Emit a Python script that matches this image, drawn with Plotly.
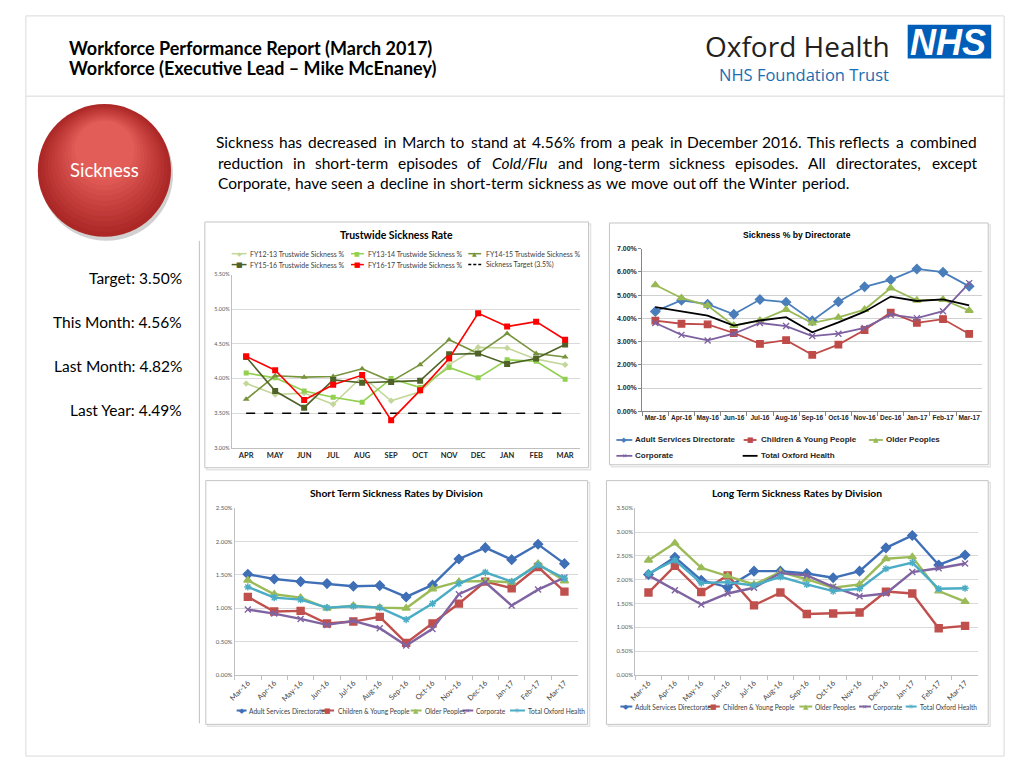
import plotly.graph_objects as go

W, H = 1024, 768

# ---------------- data ----------------
months_fy = ["APR", "MAY", "JUN", "JUL", "AUG", "SEP", "OCT", "NOV", "DEC", "JAN", "FEB", "MAR"]
fy1213 = [3.93, 3.77, 3.79, 3.63, 4.03, 3.68, 3.81, 4.20, 4.45, 4.44, 4.28, 4.20]
fy1314 = [4.08, 4.01, 3.82, 3.73, 3.66, 4.00, 3.87, 4.16, 4.01, 4.27, 4.25, 3.99]
fy1415 = [3.70, 4.04, 4.02, 4.03, 4.14, 3.96, 4.20, 4.56, 4.36, 4.65, 4.36, 4.31]
fy1516 = [4.31, 3.82, 3.58, 3.98, 3.94, 3.95, 3.97, 4.35, 4.36, 4.21, 4.29, 4.49]
fy1617 = [4.32, 4.12, 3.69, 3.91, 4.05, 3.40, 3.83, 4.29, 4.94, 4.75, 4.82, 4.56]
target = [3.5, 3.5, 3.5, 3.5, 3.5, 3.5, 3.5, 3.5, 3.5, 3.5, 3.5, 3.5]

months13 = ["Mar-16", "Apr-16", "May-16", "Jun-16", "Jul-16", "Aug-16", "Sep-16",
            "Oct-16", "Nov-16", "Dec-16", "Jan-17", "Feb-17", "Mar-17"]

dir_adult = [4.30, 4.78, 4.61, 4.18, 4.81, 4.70, 3.90, 4.72, 5.36, 5.66, 6.13, 5.99, 5.38]
dir_children = [3.90, 3.77, 3.74, 3.37, 2.90, 3.06, 2.43, 2.87, 3.50, 4.25, 3.81, 3.97, 3.33]
dir_older = [5.44, 4.88, 4.55, 3.69, 3.91, 4.38, 3.80, 4.04, 4.38, 5.31, 4.78, 4.81, 4.34]
dir_corporate = [3.80, 3.29, 3.05, 3.34, 3.80, 3.67, 3.24, 3.34, 3.59, 4.16, 4.01, 4.31, 5.52]
dir_total = [4.49, 4.32, 4.12, 3.69, 3.91, 4.05, 3.40, 3.83, 4.29, 4.94, 4.75, 4.82, 4.56]

st_adult = [1.51, 1.44, 1.40, 1.37, 1.33, 1.34, 1.17, 1.35, 1.74, 1.91, 1.73, 1.96, 1.67]
st_children = [1.17, 0.95, 0.96, 0.77, 0.80, 0.87, 0.48, 0.77, 1.07, 1.40, 1.30, 1.62, 1.25]
st_older = [1.42, 1.21, 1.16, 1.00, 1.04, 1.01, 1.00, 1.29, 1.40, 1.41, 1.39, 1.67, 1.41]
st_corporate = [0.98, 0.92, 0.84, 0.75, 0.81, 0.70, 0.44, 0.69, 1.21, 1.39, 1.04, 1.28, 1.46]
st_total = [1.32, 1.16, 1.13, 1.01, 1.03, 1.01, 0.83, 1.07, 1.37, 1.54, 1.40, 1.65, 1.45]

lt_adult = [2.11, 2.47, 1.99, 1.84, 2.18, 2.18, 2.13, 2.04, 2.18, 2.67, 2.93, 2.31, 2.52]
lt_children = [1.73, 2.29, 1.74, 2.09, 1.46, 1.73, 1.28, 1.29, 1.31, 1.75, 1.71, 0.98, 1.03]
lt_older = [2.41, 2.77, 2.25, 2.08, 1.90, 2.16, 2.01, 1.83, 1.90, 2.44, 2.48, 1.76, 1.54]
lt_corporate = [2.09, 1.78, 1.48, 1.71, 1.83, 2.14, 2.09, 1.85, 1.65, 1.71, 2.16, 2.24, 2.34]
lt_total = [2.13, 2.41, 1.93, 1.95, 1.88, 2.06, 1.90, 1.76, 1.81, 2.23, 2.36, 1.81, 1.82]

stats_labels = ["Target: 3.50%", "This Month: 4.56%", "Last Month: 4.82%", "Last Year: 4.49%"]

# ---------------- helpers ----------------
def px(x):
    return x / W


def py(y):
    return 1 - y / H


shapes = []
annotations = []


def text(x, y, s, size, color="#000000", family="Lato", xanchor="center", weight="normal", yanchor="middle"):
    annotations.append(dict(x=px(x), y=py(y), xref="paper", yref="paper", text=s, showarrow=False,
                            xanchor=xanchor, yanchor=yanchor,
                            font=dict(family=family, size=size, color=color, weight=weight)))


def rect(x0, y0, x1, y1, line="#bfbfbf", fill=None, lw=1):
    d = dict(type="rect", xref="paper", yref="paper", x0=px(x0), x1=px(x1), y0=py(y1), y1=py(y0),
             line=dict(color=line, width=lw), layer="below")
    if fill:
        d["fillcolor"] = fill
    shapes.append(d)


def hline(x0, x1, y, color, width=1, dash=None, layer="above"):
    shapes.append(dict(type="line", xref="paper", yref="paper", x0=px(x0), x1=px(x1), y0=py(y), y1=py(y),
                       line=dict(color=color, width=width, dash=dash), layer=layer))


def legend_item(x0, x1, y, color, glyph, gsize, label, tx, size, family, lw=1.5, dash=None,
                tcolor="#404040", weight="normal"):
    hline(x0, x1, y, color, lw, dash)
    if glyph:
        text((x0 + x1) / 2, y, glyph, gsize, color=color, family="DejaVu Sans")
    text(tx, y, label, size, color=tcolor, family=family, xanchor="left", weight=weight)


# Calibri-like advance widths (1/1000 em) used to lay out the justified paragraph
CAL = {' ': 226, 'a': 479, 'b': 525, 'c': 423, 'd': 525, 'e': 498, 'f': 305, 'g': 471, 'h': 525,
       'i': 229, 'j': 239, 'k': 455, 'l': 229, 'm': 799, 'n': 525, 'o': 527, 'p': 525, 'q': 525,
       'r': 349, 's': 391, 't': 335, 'u': 525, 'v': 452, 'w': 715, 'x': 433, 'y': 453, 'z': 395,
       'A': 579, 'B': 544, 'C': 533, 'D': 615, 'E': 488, 'F': 459, 'G': 631, 'H': 623, 'I': 252,
       'J': 319, 'K': 520, 'L': 420, 'M': 855, 'N': 646, 'O': 662, 'P': 517, 'Q': 673, 'R': 543,
       'S': 459, 'T': 487, 'U': 642, 'V': 567, 'W': 890, 'X': 519, 'Y': 487, 'Z': 468,
       '.': 252, ',': 250, '%': 715, '/': 386, '-': 306, '(': 303, ')': 303, ':': 268}


def wwidth(s, fs):
    return sum(CAL.get(c, 507) for c in s) * fs / 1000.0


def paragraph_line(line, y, x0, x1, justify, italic=(), ref_fs=17.0, size=15.5):
    words = line.split(" ")
    widths = [wwidth(w, ref_fs) for w in words]
    if justify:
        gap = (x1 - x0 - sum(widths)) / (len(words) - 1)
    else:
        gap = CAL[' '] * ref_fs / 1000.0
    x = x0
    for w, wd in zip(words, widths):
        s = "<i>%s</i>" % w if w in italic else w
        text(x + wd / 2, y, s, size, color="#000000", family="Lato")
        x += wd + gap


# ---------------- page decoration ----------------
rect(20, 12, 1004, 759, line="#d9d9d9")
hline(20, 1004, 93, "#d9d9d9", 1, layer="below")
shapes.append(dict(type="line", xref="paper", yref="paper", x0=px(194.5), x1=px(194.5), y0=py(239), y1=py(726),
                   line=dict(color="#bfbfbf", width=1)))

# header
text(61, 44, "Workforce Performance Report (March 2017)", 18, family="Lato", xanchor="left", weight="bold")
text(61, 65, "Workforce (Executive Lead \u2013 Mike McEnaney)", 18, family="Lato", xanchor="left", weight="bold")
text(891, 42, "Oxford Health", 28, color="#231f20", family="Open Sans", xanchor="right")
text(890, 71, "NHS Foundation Trust", 16.5, color="#1a6db3", family="Open Sans", xanchor="right")
shapes.append(dict(type="rect", xref="paper", yref="paper", x0=px(907), x1=px(991), y0=py(55), y1=py(21),
                   fillcolor="#005eb8", line=dict(width=0)))
text(948, 39, "<b><i>NHS</i></b>", 36, color="#ffffff", family="Liberation Sans")

# sickness bubble (layered circles to imitate the shaded button)
cx, cy, rx, ry = 99, 168, 67, 67
shapes.append(dict(type="circle", xref="paper", yref="paper", x0=px(cx - rx + 2), x1=px(cx + rx + 2),
                   y0=py(cy + ry + 4), y1=py(cy - ry + 4), fillcolor="rgba(0,0,0,0.18)", line=dict(width=0)))
c_out = (172, 40, 38)
c_in = (226, 92, 88)
steps = 12
for i in range(steps):
    t = i / (steps - 1)
    col = "rgb(%d,%d,%d)" % tuple(int(a + (b - a) * t) for a, b in zip(c_out, c_in))
    inset_x = rx * 0.55 * t
    inset_y = ry * 0.55 * t
    shift = -ry * 0.30 * t
    shapes.append(dict(type="circle", xref="paper", yref="paper",
                       x0=px(cx - rx + inset_x), x1=px(cx + rx - inset_x),
                       y0=py(cy + ry - inset_y + shift), y1=py(cy - ry + inset_y + shift),
                       fillcolor=col, line=dict(width=0)))
text(99, 168, "Sickness", 18.5, color="#ffffff", family="Lato")

# left statistics
for lab, yy in zip(stats_labels, [277, 321, 365, 410]):
    text(179, yy, lab, 15.5, color="#000000", family="Lato", xanchor="right")

# paragraph
paragraph_line("Sickness has decreased in March to stand at 4.56% from a peak in December 2016. This reflects a combined",
               139, 212, 977, True)
paragraph_line("reduction in short-term episodes of Cold/Flu and long-term sickness episodes. All directorates, except",
               160, 212, 977, True, italic=("Cold/Flu",))
paragraph_line("Corporate, have seen a decline in short-term sickness as we move out off the Winter period.",
               180.5, 212, 977, False)

# chart boxes with soft shadow
for (x0, y0, x1, y1) in [(200, 220, 586, 468), (607, 221, 988, 465), (201, 481, 585, 727), (604, 481, 988, 727)]:
    shapes.append(dict(type="rect", xref="paper", yref="paper", x0=px(x0 + 2), x1=px(x1 + 2), y0=py(y1 + 2),
                       y1=py(y0 + 2), line=dict(color="#e4e4e4", width=1.5), layer="below"))
    rect(x0, y0, x1, y1, line="#c4c4c4", fill="#ffffff")

# ---------------- traces ----------------
fig = go.Figure()

CAL_FONT = "Lato"
ARIAL = "Liberation Sans"

tw_series = [
    ("FY12-13 Trustwide Sickness %", fy1213, "#c4d79b", "diamond", 5),
    ("FY13-14 Trustwide Sickness %", fy1314, "#92d050", "square", 5),
    ("FY14-15 Trustwide Sickness %", fy1415, "#77933c", "triangle-up", 6),
    ("FY15-16 Trustwide Sickness %", fy1516, "#4f6228", "square", 6),
    ("FY16-17 Trustwide Sickness %", fy1617, "#ff0000", "square", 6),
]
fig.add_trace(go.Scatter(x=months_fy, y=target, mode="lines", name="Sickness Target (3.5%)",
                         line=dict(color="#000000", width=1.5, dash="dash"), xaxis="x", yaxis="y",
                         showlegend=False))
for name, vals, col, sym, ms in tw_series:
    fig.add_trace(go.Scatter(x=months_fy, y=vals, mode="lines+markers", name=name,
                             line=dict(color=col, width=1.6), marker=dict(symbol=sym, size=ms, color=col),
                             xaxis="x", yaxis="y", showlegend=False))

div_series_dir = [
    ("Adult Services Directorate", dir_adult, "#4a7ebb", "diamond", 7),
    ("Children & Young People", dir_children, "#be4b48", "square", 6.5),
    ("Older Peoples", dir_older, "#98b954", "triangle-up", 7),
    ("Corporate", dir_corporate, "#7d60a0", "x-thin-open", 6),
]
for name, vals, col, sym, ms in div_series_dir:
    fig.add_trace(go.Scatter(x=months13, y=vals, mode="lines+markers", name=name,
                             line=dict(color=col, width=1.8),
                             marker=dict(symbol=sym, size=ms, color=col, line=dict(width=1.3, color=col)),
                             xaxis="x2", yaxis="y2", showlegend=False))
fig.add_trace(go.Scatter(x=months13, y=dir_total, mode="lines", name="Total Oxford Health",
                         line=dict(color="#000000", width=1.8), xaxis="x2", yaxis="y2", showlegend=False))

div_colors = {"Adult Services Directorate": "#3f6fb6", "Children & Young People": "#c0504d",
              "Older Peoples": "#9bbb59", "Corporate": "#8064a2", "Total Oxford Health": "#4bacc6"}
div_symbols = {"Adult Services Directorate": ("diamond", 7), "Children & Young People": ("square", 7),
               "Older Peoples": ("triangle-up", 7), "Corporate": ("x-thin-open", 6),
               "Total Oxford Health": ("asterisk-open", 6)}
div_names = ["Adult Services Directorate", "Children & Young People", "Older Peoples", "Corporate",
             "Total Oxford Health"]

for axis_x, axis_y, series in [("x3", "y3", [st_adult, st_children, st_older, st_corporate, st_total]),
                               ("x4", "y4", [lt_adult, lt_children, lt_older, lt_corporate, lt_total])]:
    for name, vals in zip(div_names, series):
        col = div_colors[name]
        sym, ms = div_symbols[name]
        fig.add_trace(go.Scatter(x=months13, y=vals, mode="lines+markers", name=name,
                                 line=dict(color=col, width=2.4),
                                 marker=dict(symbol=sym, size=ms, color=col, line=dict(width=1.4, color=col)),
                                 xaxis=axis_x, yaxis=axis_y, showlegend=False))

# ---------------- chart titles & legends ----------------
text(393, 233, "Trustwide Sickness Rate", 10.5, family=CAL_FONT, weight="bold")
leg_font = 7
rows = [252, 263]
cols = [(227, 242, 243), (347, 360, 362), (465, 478, 481)]
tw_leg = [
    ("FY12-13 Trustwide Sickness %", "#c4d79b", "\u25C6", 6),
    ("FY13-14 Trustwide Sickness %", "#92d050", "\u25A0", 6),
    ("FY14-15 Trustwide Sickness %", "#77933c", "\u25B2", 6),
    ("FY15-16 Trustwide Sickness %", "#4f6228", "\u25A0", 7),
    ("FY16-17 Trustwide Sickness %", "#ff0000", "\u25A0", 7),
]
for i, (lab, col, g, gs) in enumerate(tw_leg):
    r, c = divmod(i, 3)
    x0, x1, tx = cols[c]
    legend_item(x0, x1, rows[r], col, g, gs, lab, tx, leg_font, CAL_FONT, lw=1.5)
legend_item(465, 478, rows[1], "#000000", None, 0, "Sickness Target (3.5%)", 481, leg_font, CAL_FONT,
            lw=1.5, dash="3px,2px")

text(796, 233, "Sickness % by Directorate", 8.6, family=ARIAL, weight="bold")
dir_leg = [
    (614, 630, 440, "Adult Services Directorate", "#4a7ebb", "\u25C6", 7, 631),
    (742, 755, 440, "Children & Young People", "#be4b48", "\u25A0", 7, 757),
    (868, 882, 440, "Older Peoples", "#98b954", "\u25B2", 7, 883),
    (614, 630, 456, "Corporate", "#7d60a0", "\u2715", 6, 631),
    (741, 756, 456, "Total Oxford Health", "#000000", None, 0, 757),
]
for x0, x1, y, lab, col, g, gs, tx in dir_leg:
    legend_item(x0, x1, y, col, g, gs, lab, tx, 8, ARIAL, lw=1.8, tcolor="#262626", weight="bold")

glyphs = ["\u25C6", "\u25A0", "\u25B2", "\u2715", "\u2733"]
gsizes = [7, 7, 7, 6, 7]
text(393, 493, "Short Term Sickness Rates by Division", 10.3, family=CAL_FONT, weight="bold")
st_leg = [(232, 242, 242.5), (317, 330, 332), (407, 418, 419), (459, 470, 471), (507, 522, 523)]
for (x0, x1, tx), name, g, gs in zip(st_leg, div_names, glyphs, gsizes):
    legend_item(x0, x1, 713, div_colors[name], g, gs, name, tx, 6.6, CAL_FONT, lw=2)

text(796, 493, "Long Term Sickness Rates by Division", 10.3, family=CAL_FONT, weight="bold")
lt_leg = [(618, 630, 630.5), (706, 718, 719), (798, 811, 812), (858, 870, 870.5), (905, 916, 917)]
for (x0, x1, tx), name, g, gs in zip(lt_leg, div_names, glyphs, gsizes):
    legend_item(x0, x1, 709, div_colors[name], g, gs, name, tx, 6.6, CAL_FONT, lw=2)

# ---------------- axes ----------------
def xdom(a, b):
    return [px(a), px(b)]


def ydom(top, bottom):
    return [py(bottom), py(top)]


grid = "#d9d9d9"
common_y = dict(tickformat=".2f", ticksuffix="%", zeroline=False, showline=True, fixedrange=True)
common_x = dict(type="category", showgrid=False, zeroline=False, showline=True, fixedrange=True)

layout_axes = dict(
    xaxis=dict(common_x, domain=xdom(227, 577), anchor="y", range=[-0.5, 11.5], linecolor="#bfbfbf",
               ticks="", tickangle=0,
               tickfont=dict(family=CAL_FONT, size=7.5, color="#262626", weight="bold")),
    yaxis=dict(common_y, domain=ydom(273, 448), anchor="x", range=[3.0, 5.5], tick0=3.0, dtick=0.5,
               gridcolor=grid, linecolor="#bfbfbf", ticks="",
               tickfont=dict(family=CAL_FONT, size=5.5, color="#595959")),
    xaxis2=dict(common_x, domain=xdom(640, 982), anchor="y2", range=[-0.5, 12.5], linecolor="#868686",
                ticks="outside", tickson="boundaries", ticklen=4, tickcolor="#868686", tickangle=0,
                tickfont=dict(family=ARIAL, size=6.6, color="#262626", weight="bold")),
    yaxis2=dict(common_y, domain=ydom(247, 411), anchor="x2", range=[0, 7], dtick=1,
                gridcolor="#d0d0d0", linecolor="#868686", ticks="outside", ticklen=3, tickcolor="#868686",
                tickfont=dict(family=ARIAL, size=7, color="#262626", weight="bold")),
    xaxis3=dict(common_x, domain=xdom(230, 575), anchor="y3", range=[-0.5, 12.5], linecolor="#bfbfbf",
                ticks="outside", tickson="boundaries", ticklen=4, tickcolor="#bfbfbf", tickangle=-45,
                tickfont=dict(family=CAL_FONT, size=7.5, color="#404040")),
    yaxis3=dict(common_y, domain=ydom(509, 677), anchor="x3", range=[0, 2.5], dtick=0.5,
                gridcolor=grid, linecolor="#bfbfbf", ticks="",
                tickfont=dict(family=CAL_FONT, size=6, color="#595959")),
    xaxis4=dict(common_x, domain=xdom(633, 978), anchor="y4", range=[-0.5, 12.5], linecolor="#bfbfbf",
                ticks="outside", tickson="boundaries", ticklen=4, tickcolor="#bfbfbf", tickangle=-45,
                tickfont=dict(family=CAL_FONT, size=7.5, color="#404040")),
    yaxis4=dict(common_y, domain=ydom(509, 677), anchor="x4", range=[0, 3.5], dtick=0.5,
                gridcolor=grid, linecolor="#bfbfbf", ticks="",
                tickfont=dict(family=CAL_FONT, size=6, color="#595959")),
)

fig.update_layout(
    width=W, height=H, autosize=False,
    margin=dict(l=0, r=0, t=0, b=0),
    paper_bgcolor="#ffffff", plot_bgcolor="rgba(0,0,0,0)",
    showlegend=False,
    shapes=shapes, annotations=annotations,
    **layout_axes,
)

fig.write_html("out.html", config={"displayModeBar": False},
               post_script="document.body.style.margin='0px';document.body.style.overflow='hidden';")
